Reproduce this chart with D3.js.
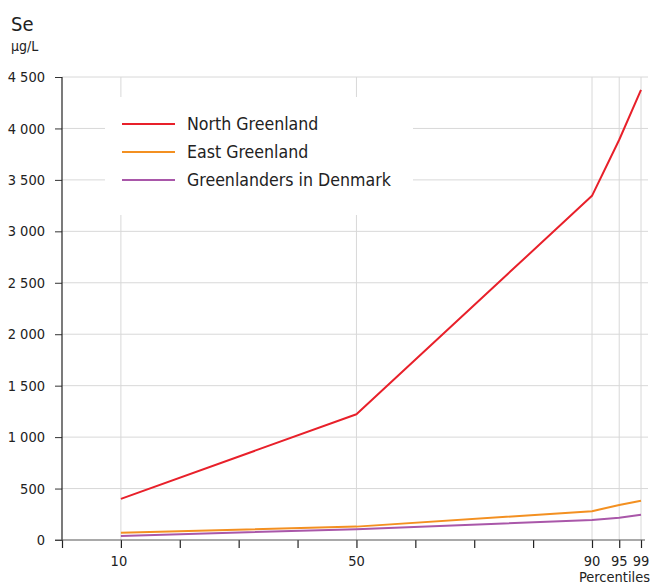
<!DOCTYPE html>
<html>
<head>
<meta charset="utf-8">
<script src="https://cdn.jsdelivr.net/npm/d3@7"></script>
<style>
  body { margin: 0; background: #fff; }
  text { font-family: "Liberation Sans Narrow", "DejaVu Sans Condensed", "Roboto", sans-serif; fill: #222; }
</style>
</head>
<body>
<div id="chart"></div>
<script>
let width = 650;
let height = 585;

// percentiles
let percentiles = [10, 50, 90, 95, 99];
let northGreenland = [400, 1222, 3345, 3890, 4375];
let eastGreenland = [70, 130, 280, 340, 382];
let greenlandersDenmark = [40, 105, 195, 217, 245];
let yTicks = [0, 500, 1000, 1500, 2000, 2500, 3000, 3500, 4000, 4500];
let xMinorTicks = [0, 10, 20, 30, 40, 50, 60, 70, 80, 90, 95, 99];
let xLabels = [10, 50, 90, 95, 99];

let series = [
  { name: 'North Greenland', values: northGreenland, color: '#e8202a' },
  { name: 'East Greenland', values: eastGreenland, color: '#f39021' },
  { name: 'Greenlanders in Denmark', values: greenlandersDenmark, color: '#a957a9' }
];

let x = d3.scaleLinear()
  .domain([0, 90, 99])
  .range([62, 592, 641]);

let y = d3.scaleLinear()
  .domain([0, 4500])
  .range([540, 77]);

const svg = d3.select('#chart').append('svg')
  .attr('width', width)
  .attr('height', height);

// horizontal grid
svg.append('g')
  .selectAll('line')
  .data(yTicks.slice(1))
  .join('line')
  .attr('x1', 62).attr('x2', 648)
  .attr('y1', d => y(d)).attr('y2', d => y(d))
  .attr('stroke', '#d8d8d8');

// vertical grid
svg.append('g')
  .selectAll('line')
  .data(percentiles)
  .join('line')
  .attr('x1', d => x(d)).attr('x2', d => x(d))
  .attr('y1', y(4500)).attr('y2', y(0))
  .attr('stroke', '#d8d8d8');

// legend background
svg.append('rect')
  .attr('x', 105).attr('y', 97)
  .attr('width', 308).attr('height', 118)
  .attr('fill', '#fff');

// y axis
let yAxis = g => g
  .attr('transform', 'translate(62, 0)')
  .call(d3.axisLeft(y).tickValues(yTicks).tickSize(7).tickPadding(10)
    .tickFormat(d => d3.format(',')(d).replace(',', ' ')))
  .call(g => g.select('.domain').remove())
  .call(g => g.selectAll('.tick line').attr('stroke', '#333'))
  .call(g => g.selectAll('.tick text').attr('font-size', 14.5).attr('fill', '#222'));

svg.append('g').call(yAxis);

svg.append('line')
  .attr('x1', 62).attr('x2', 62)
  .attr('y1', y(4500)).attr('y2', y(0))
  .attr('stroke', '#222').attr('stroke-width', 1.2);

// x axis
let xAxis = g => g
  .attr('transform', `translate(0, ${y(0)})`)
  .call(d3.axisBottom(x).tickValues(xMinorTicks).tickSize(8).tickFormat(''))
  .call(g => g.select('.domain').remove())
  .call(g => g.selectAll('.tick line').attr('stroke', '#222').attr('stroke-width', 1.2));

svg.append('g').call(xAxis);

svg.append('line')
  .attr('x1', 55).attr('x2', 645)
  .attr('y1', y(0)).attr('y2', y(0))
  .attr('stroke', '#555').attr('stroke-width', 1.2);

svg.append('g')
  .selectAll('text')
  .data(xLabels)
  .join('text')
  .attr('x', d => x(d) - (d === 10 ? 2 : 0))
  .attr('y', 566)
  .attr('text-anchor', 'middle')
  .attr('font-size', 14.5)
  .text(d => d);

svg.append('text')
  .attr('x', 650).attr('y', 582)
  .attr('text-anchor', 'end')
  .attr('font-size', 14.5)
  .text('Percentiles');

// title
svg.append('text')
  .attr('x', 11).attr('y', 31)
  .attr('font-size', 20)
  .text('Se');

svg.append('text')
  .attr('x', 11).attr('y', 51)
  .attr('font-size', 14)
  .text('\u00b5g/L');

// lines
let line = d3.line()
  .x((d, i) => x(percentiles[i]))
  .y(d => y(d));

svg.append('g')
  .selectAll('path')
  .data(series.slice().reverse())
  .join('path')
  .attr('fill', 'none')
  .attr('stroke', d => d.color)
  .attr('stroke-width', 2)
  .attr('stroke-linejoin', 'round')
  .attr('d', d => line(d.values));

// legend
let legend = svg.append('g')
  .selectAll('g')
  .data(series)
  .join('g')
  .attr('transform', (d, i) => `translate(122, ${124 + i * 28})`);

legend.append('line')
  .attr('x1', 0).attr('x2', 53)
  .attr('stroke', d => d.color)
  .attr('stroke-width', 2);

legend.append('text')
  .attr('x', 65).attr('y', 6)
  .attr('font-size', 17.6)
  .attr('fill', '#333')
  .text(d => d.name);
</script>
</body>
</html>
